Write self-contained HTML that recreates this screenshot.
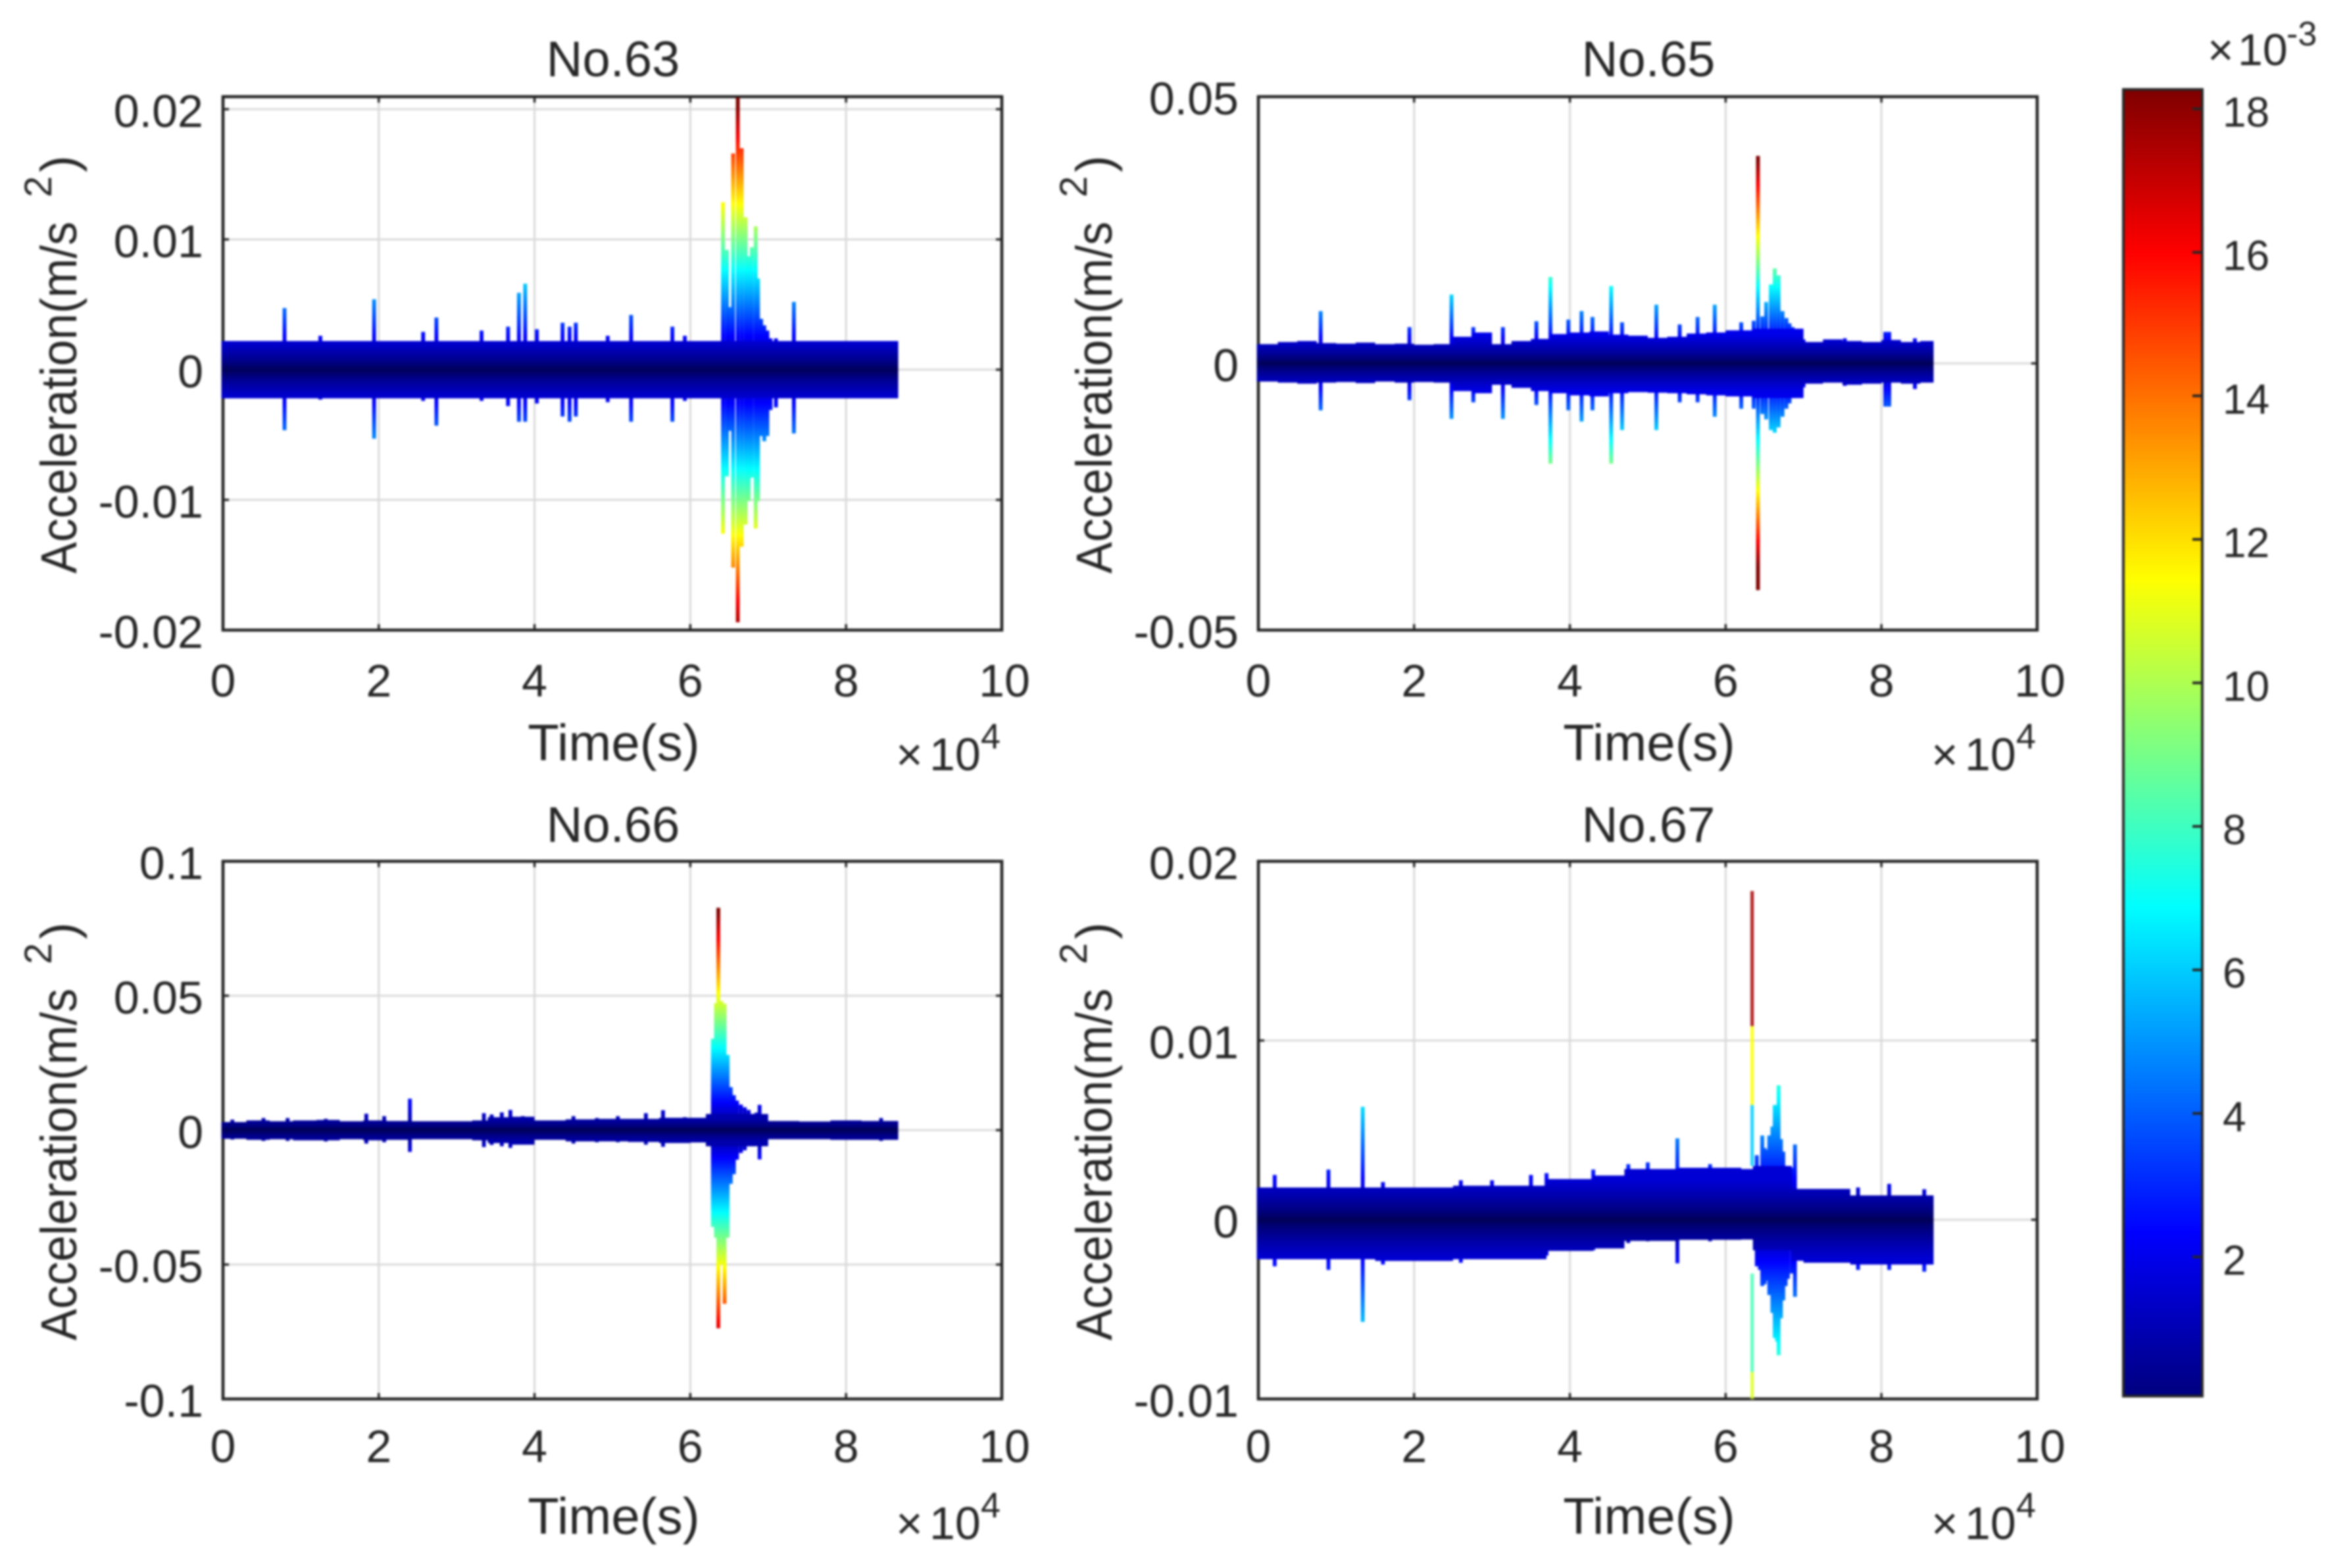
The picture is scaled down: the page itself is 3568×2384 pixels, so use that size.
<!DOCTYPE html>
<html lang="en">
<head>
<meta charset="utf-8">
<title>Acceleration time histories No.63, No.65, No.66, No.67</title>
<style>
html,body{margin:0;padding:0;background:#fff;width:3568px;height:2384px;overflow:hidden}
svg{display:block;filter:blur(1.5px)}
text{font-family:"Liberation Sans",Arial,sans-serif;fill:#262626}
</style>
</head>
<body>
<svg id="figure" xmlns="http://www.w3.org/2000/svg" width="3568" height="2384" viewBox="0 0 3568 2384">
<rect x="0" y="0" width="3568" height="2384" fill="#ffffff"/>
</svg>
<script>
// ---------- shared axis data ----------
const xTicks = [0, 2, 4, 6, 8, 10];
const xTickLabels = ['0', '2', '4', '6', '8', '10'];
const xLimits = [0, 10];
const colorbarTicks = [2, 4, 6, 8, 10, 12, 14, 16, 18];
const colorbarTickLabels = ['2', '4', '6', '8', '10', '12', '14', '16', '18'];
const colorbarLimits = [0.06, 18.27];

// ---------- No.63 ----------
const yLimits63 = [-0.02, 0.02096];
const yTicks63 = [-0.02, -0.01, 0, 0.01, 0.02];
const yTickLabels63 = ['-0.02', '-0.01', '0', '0.01', '0.02'];
const baseT63 = [-0.02, 6.4, 7.0, 8.67];
const baseUp63 = [0.0022, 0.0022, 0.0022];
const baseLow63 = [-0.0022, -0.0022, -0.0022];
const eventT63 = [0.79, 1.25, 1.94, 2.57, 2.74, 3.32, 3.66, 3.8, 3.88, 4.03, 4.36, 4.45, 4.53, 4.94, 5.24, 5.77, 5.93,
  6.42, 6.47, 6.51, 6.55, 6.61, 6.66, 6.71, 6.75, 6.79, 6.84, 6.87, 6.91, 6.95, 6.99, 7.03, 7.1, 7.33];
const eventUp63 = [0.00473, 0.0026, 0.0054, 0.0029, 0.004, 0.003, 0.0033, 0.0059, 0.0066, 0.0031, 0.0036, 0.0033, 0.0036, 0.0026, 0.0042, 0.0033, 0.0026,
  0.01285, 0.0092, 0.0048, 0.0166, 0.0209, 0.017, 0.0117, 0.0087, 0.0094, 0.011, 0.007, 0.0039, 0.0034, 0.003, 0.0024, 0.0024, 0.0052];
const eventLow63 = [-0.00465, -0.0023, -0.0053, -0.0024, -0.0043, -0.0024, -0.0028, -0.004, -0.004, -0.0026, -0.0036, -0.004, -0.0036, -0.0025, -0.004, -0.004, -0.0024,
  -0.0126, -0.0082, -0.0047, -0.0152, -0.0194, -0.0136, -0.0119, -0.0101, -0.0083, -0.0122, -0.0101, -0.0051, -0.0055, -0.0051, -0.0031, -0.0029, -0.0049];

// ---------- No.65 ----------
const yLimits65 = [-0.05, 0.05];
const yTicks65 = [-0.05, 0, 0.05];
const yTickLabels65 = ['-0.05', '0', '0.05'];
const baseT65 = [-0.02, 0.25, 0.5, 0.75, 1, 1.25, 1.5, 1.75, 2, 2.25, 2.5, 2.75, 3, 3.25, 3.5, 3.75, 4, 4.25, 4.5, 4.75, 5, 5.25, 5.5, 5.75, 6, 6.35, 7, 7.25, 7.5, 7.75, 8, 8.25, 8.5, 8.67];
const baseUp65 = [0.0036, 0.004, 0.0042, 0.0038, 0.0037, 0.0039, 0.0036, 0.0037, 0.0035, 0.0036, 0.005, 0.0058, 0.0036, 0.0042, 0.0046, 0.0055, 0.0058, 0.006, 0.0054, 0.0052, 0.0048, 0.005, 0.0056, 0.0058, 0.0062, 0.0065, 0.004, 0.0045, 0.0042, 0.004, 0.0044, 0.004, 0.0042];
const baseLow65 = [-0.0034, -0.0036, -0.0038, -0.0036, -0.0035, -0.0037, -0.0034, -0.0036, -0.0035, -0.0036, -0.0052, -0.0056, -0.004, -0.0046, -0.0052, -0.0056, -0.006, -0.0062, -0.0056, -0.0054, -0.0055, -0.0056, -0.0058, -0.006, -0.0062, -0.0065, -0.0038, -0.0036, -0.004, -0.0038, -0.0036, -0.0038, -0.0036];
const eventT65 = [0.8, 1.94, 2.48, 2.76, 3.14, 3.57, 3.75, 3.98, 4.15, 4.29, 4.53, 4.67, 5.11, 5.41, 5.64, 5.86, 6.2,
  6.36, 6.415, 6.47, 6.52, 6.58, 6.63, 6.68, 6.73, 6.78, 6.82, 6.86, 6.92, 7.0, 7.53, 8.05, 8.1, 8.43];
const eventUp65 = [0.0098, 0.0068, 0.0129, 0.0068, 0.0068, 0.0079, 0.0162, 0.0082, 0.0098, 0.0087, 0.0145, 0.0077, 0.011, 0.0073, 0.0087, 0.011, 0.0077,
  0.008, 0.0389, 0.0088, 0.0115, 0.0148, 0.0178, 0.0165, 0.0098, 0.0085, 0.0075, 0.0068, 0.0055, 0.0045, 0.0047, 0.0059, 0.0059, 0.0047];
const eventLow65 = [-0.0088, -0.0069, -0.0104, -0.0073, -0.0104, -0.0078, -0.0188, -0.0088, -0.0109, -0.0088, -0.0188, -0.0125, -0.0125, -0.0073, -0.0073, -0.01, -0.0085,
  -0.0085, -0.0425, -0.0095, -0.0105, -0.0125, -0.013, -0.012, -0.01, -0.0085, -0.0075, -0.0065, -0.005, -0.0045, -0.0042, -0.0081, -0.0081, -0.0048];

// ---------- No.66 ----------
const yLimits66 = [-0.1, 0.1];
const yTicks66 = [-0.1, -0.05, 0, 0.05, 0.1];
const yTickLabels66 = ['-0.1', '-0.05', '0', '0.05', '0.1'];
const baseT66 = [-0.02, 0.3, 0.6, 0.9, 1.2, 1.5, 1.8, 2.1, 2.4, 2.8, 3.2, 3.4, 3.7, 4, 4.4, 4.8, 5.2, 5.6, 6, 6.2, 7, 7.4, 7.8, 8.2, 8.67];
const baseUp66 = [0.003, 0.0036, 0.0033, 0.0036, 0.0038, 0.0033, 0.0036, 0.0034, 0.0033, 0.0033, 0.0036, 0.0048, 0.005, 0.0036, 0.004, 0.0042, 0.0042, 0.0046, 0.0046, 0.006, 0.0034, 0.0032, 0.0036, 0.0034];
const baseLow66 = [-0.0032, -0.0036, -0.0034, -0.0038, -0.0038, -0.0034, -0.0038, -0.0036, -0.0034, -0.0034, -0.0038, -0.0048, -0.0054, -0.0036, -0.0042, -0.0042, -0.0044, -0.0048, -0.0046, -0.006, -0.0034, -0.0034, -0.0036, -0.0036];
const eventT66 = [0.12, 0.52, 0.83, 1.32, 1.84, 2.07, 2.4, 3.35, 3.45, 3.58, 3.69, 3.85, 4.5, 4.8, 5.07, 5.43, 5.65, 5.93,
  6.25, 6.29, 6.33, 6.36, 6.4, 6.44, 6.48, 6.52, 6.56, 6.6, 6.65, 6.7, 6.75, 6.8, 6.85, 6.89, 8.45];
const eventUp66 = [0.0039, 0.0045, 0.0045, 0.0042, 0.0061, 0.0052, 0.0117, 0.0063, 0.0058, 0.0066, 0.0075, 0.0052, 0.0052, 0.0045, 0.0052, 0.0063, 0.0074, 0.0048,
  0.0049, 0.034, 0.0472, 0.0827, 0.048, 0.047, 0.028, 0.016, 0.013, 0.011, 0.0095, 0.0085, 0.0075, 0.006, 0.0065, 0.0094, 0.0045];
const eventLow66 = [-0.0035, -0.004, -0.004, -0.0042, -0.005, -0.0045, -0.0081, -0.0063, -0.0055, -0.006, -0.0066, -0.005, -0.005, -0.0045, -0.0045, -0.0054, -0.0062, -0.004,
  -0.0042, -0.036, -0.04, -0.0737, -0.05, -0.0646, -0.04, -0.02, -0.0164, -0.011, -0.0085, -0.0075, -0.006, -0.006, -0.0055, -0.0109, -0.004];

// ---------- No.67 ----------
const yLimits67 = [-0.01, 0.02];
const yTicks67 = [-0.01, 0, 0.01, 0.02];
const yTickLabels67 = ['-0.01', '0', '0.01', '0.02'];
const baseT67 = [-0.02, 1.5, 2.5, 3.7, 4.3, 4.7, 5.4, 6.2, 6.35, 6.85, 7.0, 7.6, 8.67];
const baseUp67 = [0.0018, 0.0018, 0.0019, 0.00227, 0.00247, 0.00283, 0.0029, 0.00283, 0.003, 0.00172, 0.00172, 0.00136];
const baseLow67 = [-0.0022, -0.0023, -0.0022, -0.00174, -0.0016, -0.00118, -0.00112, -0.0011, -0.0017, -0.00229, -0.0024, -0.0025];
const eventT67 = [0.21, 0.9, 1.34, 1.6, 2.6, 3.0, 3.5, 3.7, 4.3, 4.75, 5.0, 5.38, 5.8,
  6.4, 6.44, 6.47, 6.5, 6.53, 6.56, 6.6, 6.63, 6.66, 6.68, 6.71, 6.74, 6.77, 6.8, 6.85, 6.89, 7.7, 8.1, 8.55];
const eventUp67 = [0.0025, 0.0028, 0.0063, 0.0021, 0.0022, 0.0022, 0.0025, 0.0026, 0.0028, 0.0031, 0.0032, 0.00454, 0.0031,
  0.0036, 0.003, 0.0047, 0.004, 0.0039, 0.0047, 0.0052, 0.0064, 0.0064, 0.0075, 0.0045, 0.0038, 0.003, 0.0029, 0.0029, 0.0042, 0.0018, 0.002, 0.0017];
const eventLow67 = [-0.0026, -0.0028, -0.0057, -0.0025, -0.0024, -0.0022, -0.0021, -0.002, -0.0017, -0.0013, -0.0012, -0.00243, -0.0012,
  -0.0026, -0.0028, -0.0037, -0.0036, -0.0034, -0.0042, -0.0052, -0.0066, -0.0068, -0.00756, -0.0055, -0.0045, -0.0037, -0.0033, -0.003, -0.0043, -0.0028, -0.0028, -0.0029];
const segT67 = [6.34, 6.34, 6.34, 6.34, 6.34];
const segFrom67 = [0.0108, 0.0064, 0.003, -0.0085, -0.01];
const segTo67 = [0.01834, 0.0108, 0.0064, -0.003, -0.0085];
const segColor67 = [17.6, 11.4, 6, 8.2, 10.8];

// ---------- layout and styling ----------
const panelStyles = [
  {key:'no-63', title:'No.63', left:339, right:1523, top:147, bottom:958, tickDy:101, labelDy:198, titleDy:-31, gain:900, bandRef:0.0022, bandEdge:[0,0,212],
   yLim:yLimits63, yTicks:yTicks63, yLabels:yTickLabels63, baseT:baseT63, baseUp:baseUp63, baseLow:baseLow63, evT:eventT63, evUp:eventUp63, evLow:eventLow63},
  {key:'no-65', title:'No.65', left:1913, right:3097, top:147, bottom:958, tickDy:101, labelDy:198, titleDy:-31, gain:480, bandRef:0.0055, bandEdge:[0,0,235],
   yLim:yLimits65, yTicks:yTicks65, yLabels:yTickLabels65, baseT:baseT65, baseUp:baseUp65, baseLow:baseLow65, evT:eventT65, evUp:eventUp65, evLow:eventLow65},
  {key:'no-66', title:'No.66', left:339, right:1523, top:1309.5, bottom:2127, tickDy:96, labelDy:205, titleDy:-29.5, gain:225, bandRef:0.0045, bandEdge:[0,0,175],
   yLim:yLimits66, yTicks:yTicks66, yLabels:yTickLabels66, baseT:baseT66, baseUp:baseUp66, baseLow:baseLow66, evT:eventT66, evUp:eventUp66, evLow:eventLow66},
  {key:'no-67', title:'No.67', left:1913, right:3097, top:1309.5, bottom:2127, tickDy:96, labelDy:205, titleDy:-29.5, gain:1000, bandRef:0.0022, bandEdge:[0,0,212],
   yLim:yLimits67, yTicks:yTicks67, yLabels:yTickLabels67, baseT:baseT67, baseUp:baseUp67, baseLow:baseLow67, evT:eventT67, evUp:eventUp67, evLow:eventLow67,
   segT:segT67, segFrom:segFrom67, segTo:segTo67, segC:segColor67}
];

// ---------- helpers ----------
const SVGNS = 'http://www.w3.org/2000/svg';
const figure = document.getElementById('figure');
function make(tag, props, parent){
  const el = document.createElementNS(SVGNS, tag);
  for(const k in props){ el.setAttribute(k, props[k]); }
  (parent || figure).appendChild(el);
  return el;
}
function clamp01(v){ return Math.max(0, Math.min(1, v)); }
function jetColor(c){
  const p = clamp01((c - colorbarLimits[0]) / (colorbarLimits[1] - colorbarLimits[0]));
  const r = clamp01(Math.min(4*p - 1.5, -4*p + 4.5));
  const g = clamp01(Math.min(4*p - 0.5, -4*p + 3.5));
  const b = clamp01(Math.min(4*p + 0.5, -4*p + 2.5));
  return 'rgb(' + Math.round(r*255) + ',' + Math.round(g*255) + ',' + Math.round(b*255) + ')';
}
function bandColor(frac, edge){
  const f = clamp01(frac);
  const navy = 84;
  return 'rgb(' + edge[0] + ',' + edge[1] + ',' + Math.round(navy + (edge[2]-navy)*Math.pow(f, 0.75)) + ')';
}
const defs = make('defs', {});

// ---------- panels ----------
panelStyles.forEach(function(p){
  const xPos = function(t){ return p.left + (t - xLimits[0]) / (xLimits[1] - xLimits[0]) * (p.right - p.left); };
  const yPos = function(v){ return p.bottom - (v - p.yLim[0]) / (p.yLim[1] - p.yLim[0]) * (p.bottom - p.top); };

  // amplitude gradients
  const grad = make('linearGradient', {id:'amp-' + p.key, gradientUnits:'userSpaceOnUse', x1:0, x2:0, y1:p.top, y2:p.bottom}, defs);
  const bandGrad = make('linearGradient', {id:'band-' + p.key, gradientUnits:'userSpaceOnUse', x1:0, x2:0, y1:p.top, y2:p.bottom}, defs);
  const N = 240;
  for(let i = 0; i <= N; i++){
    const v = p.yLim[1] - i / N * (p.yLim[1] - p.yLim[0]);
    make('stop', {offset:i / N, 'stop-color':jetColor(p.gain * Math.abs(v))}, grad);
    make('stop', {offset:i / N, 'stop-color':bandColor(Math.abs(v) / p.bandRef, p.bandEdge)}, bandGrad);
  }
  const clip = make('clipPath', {id:'clip-' + p.key}, defs);
  make('rect', {x:p.left - 8, y:p.top, width:p.right - p.left + 8, height:p.bottom - p.top}, clip);

  const group = make('g', {});
  
  

  // grid lines
  xTicks.slice(1, -1).forEach(function(t){
    const line = make('line', {x1:xPos(t), x2:xPos(t), y1:p.top, y2:p.bottom, stroke:'#d9d9d9', 'stroke-width':3}, group);
    
    
  });
  p.yTicks.forEach(function(v){
    if(v === p.yLim[0] || v === p.yLim[1]) return;
    const line = make('line', {x1:p.left, x2:p.right, y1:yPos(v), y2:yPos(v), stroke:'#d9d9d9', 'stroke-width':3}, group);
    
    
  });

  // axes box
  const box = make('rect', {x:p.left, y:p.top, width:p.right - p.left, height:p.bottom - p.top, fill:'none', stroke:'#1f1f1f', 'stroke-width':4.5}, group);
  
  

  // tick marks
  xTicks.slice(1, -1).forEach(function(t){
    const tickA = make('line', {x1:xPos(t), x2:xPos(t), y1:p.bottom, y2:p.bottom - 9, stroke:'#262626', 'stroke-width':3.5}, group);
    
    
    const tickB = make('line', {x1:xPos(t), x2:xPos(t), y1:p.top, y2:p.top + 9, stroke:'#262626', 'stroke-width':3.5}, group);
    
    
  });
  p.yTicks.forEach(function(v){
    const tickA = make('line', {x1:p.left, x2:p.left + 9, y1:yPos(v), y2:yPos(v), stroke:'#262626', 'stroke-width':3.5}, group);
    
    
    const tickB = make('line', {x1:p.right, x2:p.right - 9, y1:yPos(v), y2:yPos(v), stroke:'#262626', 'stroke-width':3.5}, group);
    
    
  });

  // data
  const data = make('g', {'clip-path':'url(#clip-' + p.key + ')'}, group);
  
  

  p.evT.forEach(function(t, i){
    const yTop = yPos(p.evUp[i]);
    const yBot = yPos(p.evLow[i]);
    const spike = make('rect', {x:xPos(t) - 2.9, y:yTop, width:5.8, height:yBot - yTop, fill:'url(#amp-' + p.key + ')'}, data);
    
    
  });

  let d = '';
  for(let i = 0; i < p.baseT.length - 1; i++){
    const x0 = xPos(p.baseT[i]);
    const x1 = xPos(p.baseT[i + 1]);
    d += (i === 0 ? 'M' : 'L') + x0 + ' ' + yPos(p.baseUp[i]) + 'L' + x1 + ' ' + yPos(p.baseUp[i]);
  }
  for(let i = p.baseT.length - 2; i >= 0; i--){
    const x0 = xPos(p.baseT[i]);
    const x1 = xPos(p.baseT[i + 1]);
    d += 'L' + x1 + ' ' + yPos(p.baseLow[i]) + 'L' + x0 + ' ' + yPos(p.baseLow[i]);
  }
  const band = make('path', {d:d + 'Z', fill:'url(#band-' + p.key + ')'}, data);
  
  

  if(p.segT){
    p.segT.forEach(function(t, i){
      const yTop = yPos(p.segTo[i]);
      const yBot = yPos(p.segFrom[i]);
      const seg = make('rect', {x:xPos(t) - 2.6, y:yTop, width:5.2, height:yBot - yTop, fill:jetColor(p.segC[i]), opacity:0.85}, data);
      
      
    });
  }

  // tick labels
  xTickLabels.forEach(function(label, i){
    const txt = make('text', {x:xPos(xTicks[i]) + (i === 5 ? 4 : 0), y:p.bottom + p.tickDy, 'text-anchor':'middle', 'font-size':70}, group);
    txt.textContent = label;
    
    
  });
  p.yLabels.forEach(function(label, i){
    const txt = make('text', {x:p.left - 30, y:yPos(p.yTicks[i]) + 27, 'text-anchor':'end', 'font-size':70}, group);
    txt.textContent = label;
    
    
  });

  // title, axis labels, exponent
  const cx = (p.left + p.right) / 2;
  const title = make('text', {x:cx + 1, y:p.top + p.titleDy, 'text-anchor':'middle', 'font-size':76}, group);
  title.textContent = p.title;
  
  

  const xLabel = make('text', {x:cx + 2, y:p.bottom + p.labelDy, 'text-anchor':'middle', 'font-size':78}, group);
  xLabel.textContent = 'Time(s)';
  
  

  const exp = make('text', {x:p.right - 161, y:p.bottom + 213, 'font-size':70}, group);
  
  
  const expA = make('tspan', {x:p.right - 161}, exp);
  expA.textContent = '×';
  const expB = make('tspan', {x:p.right - 110}, exp);
  expB.textContent = '10';
  const expC = make('tspan', {x:p.right - 32, dy:-33, 'font-size':54}, exp);
  expC.textContent = '4';

  const yBase = p.top === 147 ? 872 : 2038;
  const yLabel = make('text', {transform:'translate(' + (p.left - 223) + ' ' + yBase + ') rotate(-90)', 'font-size':77}, group);
  
  
  const partA = make('tspan', {x:0, y:0, textLength:535, lengthAdjust:'spacingAndGlyphs'}, yLabel);
  partA.textContent = 'Acceleration(m/s';
  const partB = make('tspan', {x:572, y:-38, 'font-size':58}, yLabel);
  partB.textContent = '2';
  const partC = make('tspan', {x:610, y:0}, yLabel);
  partC.textContent = ')';
});

// ---------- colorbar ----------
const barBox = {left:3228, right:3348, top:136, bottom:2122.7};
const barY = function(v){ return barBox.bottom - (v - colorbarLimits[0]) / (colorbarLimits[1] - colorbarLimits[0]) * (barBox.bottom - barBox.top); };
const barGrad = make('linearGradient', {id:'jet-bar', x1:0, x2:0, y1:1, y2:0}, defs);
for(let i = 0; i <= 128; i++){
  make('stop', {offset:i / 128, 'stop-color':jetColor(colorbarLimits[0] + i / 128 * (colorbarLimits[1] - colorbarLimits[0]))}, barGrad);
}
const barGroup = make('g', {});


const barRect = make('rect', {x:barBox.left, y:barBox.top, width:barBox.right - barBox.left, height:barBox.bottom - barBox.top, fill:'url(#jet-bar)', stroke:'#262626', 'stroke-width':4}, barGroup);


colorbarTicks.forEach(function(v, i){
  const tick = make('line', {x1:barBox.right, x2:barBox.right - 15, y1:barY(v), y2:barY(v), stroke:'#262626', 'stroke-width':4}, barGroup);
  
  
  const label = make('text', {x:3379, y:barY(v) + 27, 'font-size':64}, barGroup);
  label.textContent = colorbarTickLabels[i];
  
  
});
const barExp = make('text', {x:3356, y:99, 'font-size':68}, barGroup);


const barExpA = make('tspan', {x:3356}, barExp);
barExpA.textContent = '×';
const barExpB = make('tspan', {x:3402}, barExp);
barExpB.textContent = '10';
const barExpC = make('tspan', {x:3476, dy:-30, 'font-size':52}, barExp);
barExpC.textContent = '-3';
</script>
</body>
</html>
